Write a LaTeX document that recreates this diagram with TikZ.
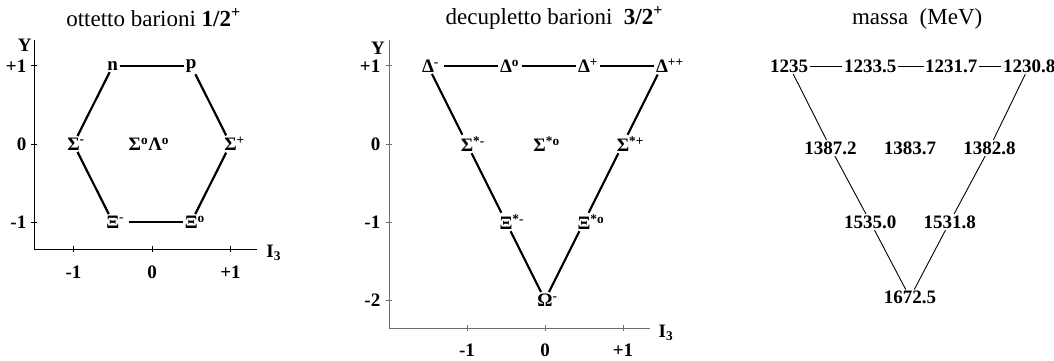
\documentclass[tikz,border=0pt]{standalone}
\usepackage{fontspec}
\setmainfont{Liberation Serif}
\usetikzlibrary{positioning}
\definecolor{axisgray}{RGB}{110,110,110}

\newcommand{\hsup}[1]{\rlap{\textsuperscript{#1}}}

\begin{document}
\begin{tikzpicture}[
    lbl/.style={font=\fontsize{19}{21}\selectfont\bfseries,inner sep=1.5pt},
    ttl/.style={font=\fontsize{23}{25}\selectfont},
    bond/.style={line width=2.2pt},
    mbond/.style={line width=0.9pt},
    axis/.style={line width=1pt},
    sup/.style={shorten <=8pt}]
  \useasboundingbox (0pt,0pt) rectangle (1054pt,-361pt);

  % ottetto
  \begin{scope}[shift={(152pt,-144pt)},x=78.5pt,y=78pt]
    \node[ttl] (t8) at (0.02,1.62) {ottetto barioni \textbf{1/2\textsuperscript{+}}};
    \draw[axis] (-1.5,1.33) -- (-1.5,-1.35) -- (1.34,-1.35);
    \foreach \y/\t [count=\i] in {1/+1,0/0,-1/-1}{
      \draw[axis] (-1.54,\y) -- (-1.46,\y);
      \node[lbl,anchor=east] (oy\i) at (-1.58,\y) {\t};}
    \foreach \x/\t [count=\i] in {-1/-1,0/0,1/+1}{
      \draw[axis] (\x,-1.39) -- (\x,-1.31);
      \node[lbl] (ox\i) at (\x,-1.65) {\t};}
    \node[lbl] (oY) at (-1.62,1.27) {Y};
    \node[lbl] (oI) at (1.55,-1.40) {I\textsubscript{3}};
    % particelle
    \node[lbl] (n) at (-0.5,1) {n};
    \node[lbl] (p) at (0.5,1) {p};
    \node[lbl] (sm) at (-1,0) {Σ\hsup{-}};
    \node[lbl] (sl) at (-0.04,0) {Σ\textsuperscript{o}Λ\textsuperscript{o}};
    \node[lbl] (sp) at (1,0) {Σ\hsup{+}};
    \node[lbl] (xm) at (-0.5,-1) {Ξ\hsup{-}};
    \node[lbl] (x0) at (0.5,-1) {Ξ\hsup{o}};
    \draw[bond] (n) -- (p);
    \draw[bond] (n) -- (sm);
    \draw[bond] (sm) -- (xm);
    \draw[bond,sup] (xm) -- (x0);
    \draw[bond] (x0) -- (sp);
    \draw[bond] (sp) -- (p);
  \end{scope}

  % decupletto
  \begin{scope}[shift={(545pt,-144pt)},x=78pt,y=78pt]
    \node[ttl] (t10) at (0.12,1.62) {decupletto barioni \ \textbf{3/2\textsuperscript{+}}};
    \draw[axis,axisgray] (-2,1.33) -- (-2,-2.36) -- (1.35,-2.36);
    \foreach \y/\t [count=\i] in {1/+1,0/0,-1/-1,-2/-2}{
      \draw[axis,axisgray] (-2.04,\y) -- (-1.96,\y);
      \node[lbl,anchor=east] (dy\i) at (-2.09,\y) {\t};}
    \foreach \x/\t [count=\i] in {-1/-1,0/0,1/+1}{
      \draw[axis,axisgray] (\x,-2.4) -- (\x,-2.32);
      \node[lbl] (dx\i) at (\x,-2.64) {\t};}
    \node[lbl] (dY) at (-2.14,1.23) {Y};
    \node[lbl] (dI) at (1.55,-2.42) {I\textsubscript{3}};
    % particelle
    \node[lbl] (dm) at (-1.5,1) {Δ\hsup{-}};
    \node[lbl] (d0) at (-0.5,1) {Δ\hsup{o}};
    \node[lbl] (dp) at (0.5,1) {Δ\hsup{+}};
    \node[lbl] (dpp) at (1.5,1) {Δ\hsup{++}};
    \node[lbl] (ssm) at (-1,0) {Σ\hsup{*-}};
    \node[lbl] (ss0) at (0.02,0) {Σ\textsuperscript{*o}};
    \node[lbl] (ssp) at (1,0) {Σ\hsup{*+}};
    \node[lbl] (xsm) at (-0.5,-1) {Ξ\hsup{*-}};
    \node[lbl] (xs0) at (0.5,-1) {Ξ\hsup{*o}};
    \node[lbl] (om) at (0,-2) {Ω\hsup{-}};
    \draw[bond,sup] (dm) -- (d0);
    \draw[bond,sup] (d0) -- (dp);
    \draw[bond,sup] (dp) -- (dpp);
    \draw[bond] (dm) -- (ssm) -- (xsm) -- (om);
    \draw[bond] (dpp) -- (ssp) -- (xs0) -- (om);
  \end{scope}

  % masse
  \begin{scope}[shift={(910pt,-144pt)},x=79.5pt,y=78pt]
    \node[ttl] (tm) at (0.09,1.6) {massa \ (MeV)};
    \node[lbl] (m1) at (-1.52,1) {1235};
    \node[lbl] (m2) at (-0.5,1) {1233.5};
    \node[lbl] (m3) at (0.52,1) {1231.7};
    \node[lbl] (m4) at (1.5,1) {1230.8};
    \node[lbl] (m5) at (-1,-0.05) {1387.2};
    \node[lbl] (m6) at (0,-0.05) {1383.7};
    \node[lbl] (m7) at (1,-0.05) {1382.8};
    \node[lbl] (m8) at (-0.5,-1) {1535.0};
    \node[lbl] (m9) at (0.5,-1) {1531.8};
    \node[lbl] (m10) at (0,-1.97) {1672.5};
    \draw[mbond] (m1) -- (m2) -- (m3) -- (m4);
    \draw[mbond] (m1) -- (m5) -- (m8) -- (m10);
    \draw[mbond] (m4) -- (m7) -- (m9) -- (m10);
  \end{scope}
\end{tikzpicture}
\end{document}
